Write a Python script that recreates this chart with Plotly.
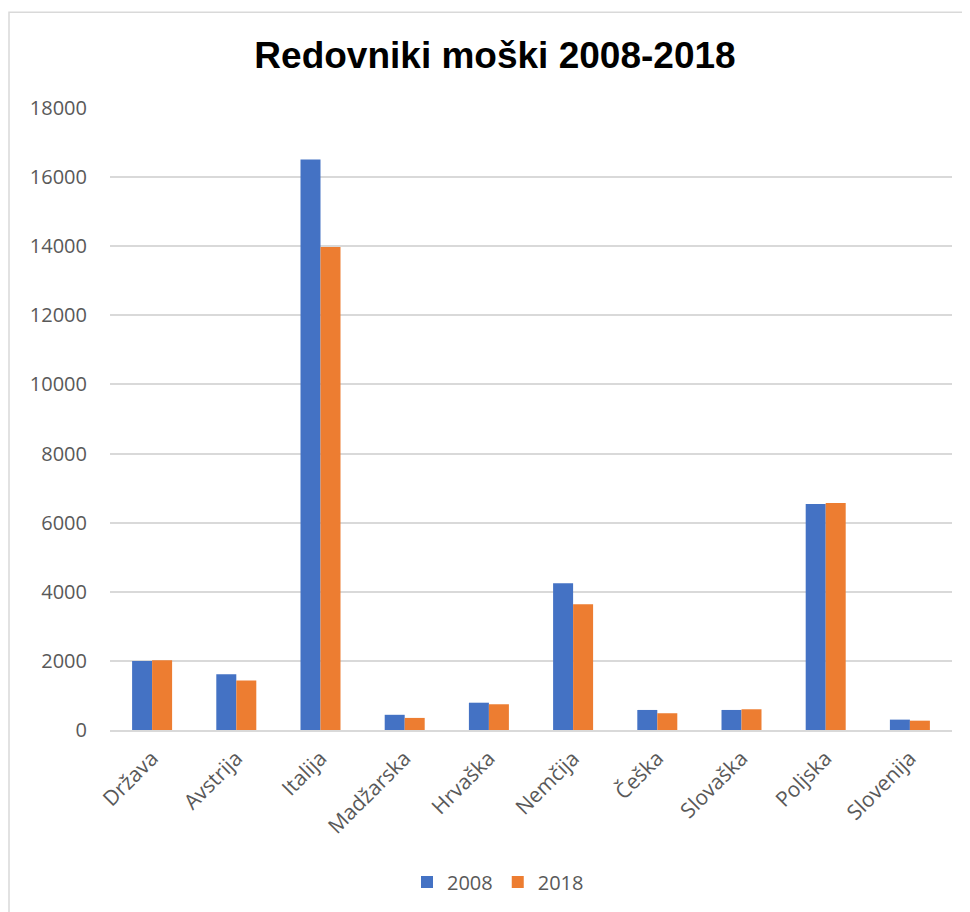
import plotly.graph_objects as go

categories = ["Država", "Avstrija", "Italija", "Madžarska", "Hrvaška",
              "Nemčija", "Češka", "Slovaška", "Poljska", "Slovenija"]
values_2008 = [2000, 1610, 16510, 440, 790, 4250, 580, 580, 6540, 300]
values_2018 = [2020, 1435, 13980, 350, 745, 3640, 485, 600, 6570, 270]
y_ticks = [0, 2000, 4000, 6000, 8000, 10000, 12000, 14000, 16000, 18000]

OFF = 8  # page body margin
W, H = 962, 904
L, R, T, B = 102, 18, 100, 181
pw, ph = W - L - R, H - T - B

def px(x):
    return (x - OFF - L) / pw

def py(y):
    return (H - B - (y - OFF)) / ph

fig = go.Figure()
fig.add_trace(go.Bar(name="2008", x=categories, y=values_2008, marker_color="#4472C4",
                     marker_line_width=0))
fig.add_trace(go.Bar(name="2018", x=categories, y=values_2018, marker_color="#ED7D31",
                     marker_line_width=0))

fig.update_layout(
    width=W, height=H,
    margin=dict(l=L, r=R, t=T, b=B),
    paper_bgcolor="white", plot_bgcolor="white",
    barmode="group", bargap=0.525, bargroupgap=0,
    title=dict(text="<b>Redovniki moški 2008-2018</b>", x=(495 - OFF) / W, xanchor="center",
               y=1 - 47 / H, yanchor="middle",
               font=dict(family="Liberation Sans, Arial", size=37, color="black")),
    font=dict(family="Open Sans, Calibri, sans-serif", color="#595959"),
    xaxis=dict(tickangle=-45, tickfont=dict(size=21, color="#595959"),
               showline=True, linecolor="#d9d9d9", linewidth=1.5,
               showgrid=False, ticks="", ticklabelstandoff=6),
    yaxis=dict(range=[0, 18000], tickvals=y_ticks,
               ticktext=[str(v) for v in y_ticks],
               tickfont=dict(size=20, color="#595959"),
               showgrid=True, gridcolor="#d9d9d9", gridwidth=1.5,
               zeroline=False, ticks="", ticklabelstandoff=22),
    legend=dict(orientation="h", x=px(498), xanchor="center", y=py(882), yanchor="middle",
                font=dict(size=20, color="#595959"), traceorder="normal"),
    shapes=[dict(type="rect", xref="paper", yref="paper",
                 x0=px(9), x1=px(990), y0=py(930), y1=py(12),
                 line=dict(color="#d9d9d9", width=1.5), fillcolor="rgba(0,0,0,0)")],
)

fig.write_html("out.html")
